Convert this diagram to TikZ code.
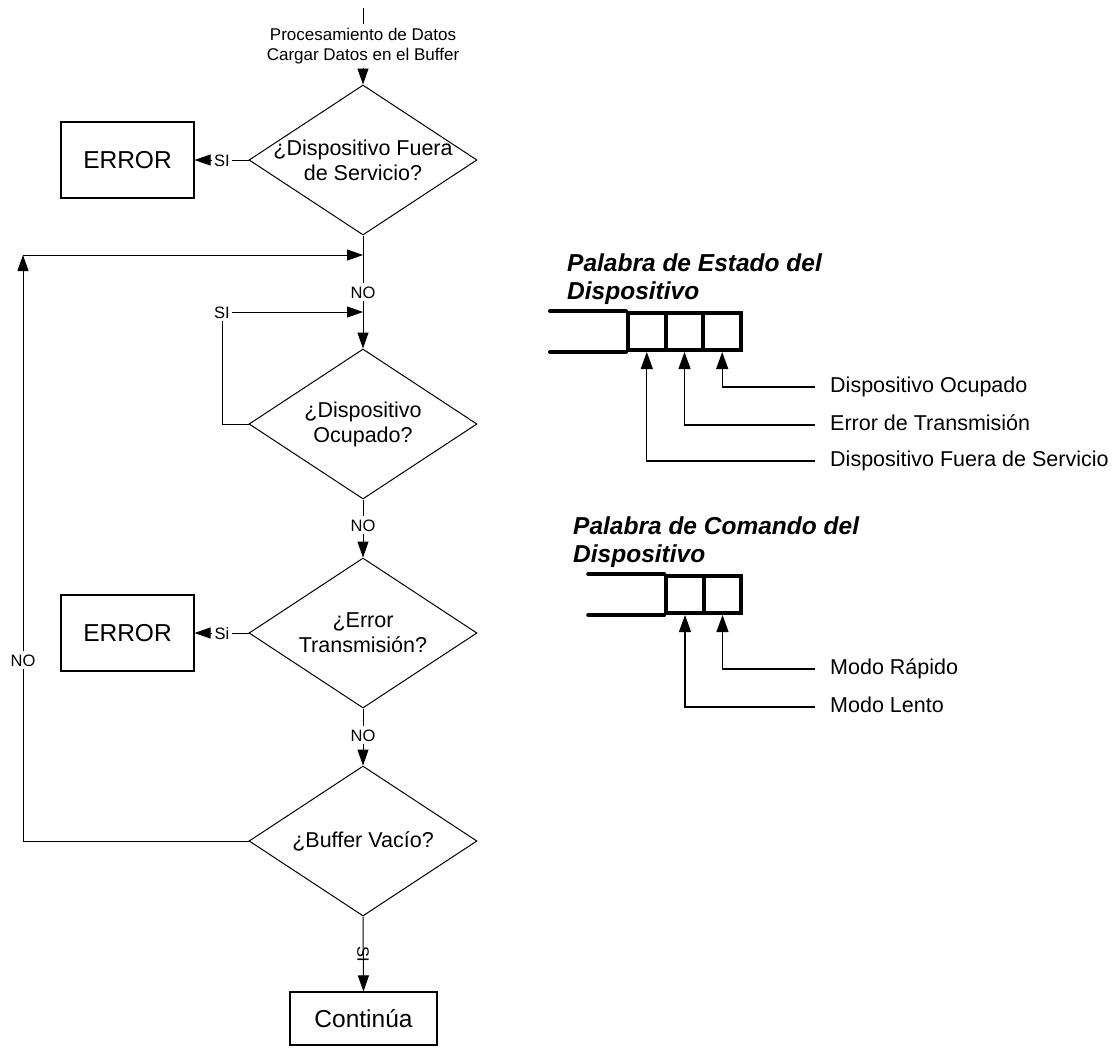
\documentclass[tikz,border=0pt]{standalone}
\usepackage{fontspec}
\setmainfont{Liberation Sans}
\usetikzlibrary{shapes.geometric,arrows.meta}

\begin{document}
\begin{tikzpicture}[x=1pt,y=-1pt,
  flow/.style={line width=1pt},
  arr/.style={flow,-{Triangle[length=16pt,width=11pt]}},
  decision/.style={draw,line width=1pt,shape=diamond,minimum width=228pt,minimum height=150pt,inner sep=0pt},
  dtext/.style={align=center,font=\fontsize{21.5}{25}\selectfont},
  box/.style={draw,line width=1.1pt,inner sep=0pt,font=\fontsize{24.5}{28}\selectfont},
  toptext/.style={align=center,font=\fontsize{17}{20}\selectfont,inner xsep=0pt,inner ysep=4pt},
  tag/.style={font=\fontsize{16.5}{19}\selectfont,text height=12pt,text depth=0pt,inner sep=2.5pt},
  cell/.style={draw,line width=4pt,minimum width=37.6pt,minimum height=37pt,inner sep=0pt},
  reg/.style={line width=4pt,line cap=round},
  regarr/.style={line width=1.1pt,-{Triangle[length=17pt,width=12pt]}},
  side/.style={font=\fontsize{21.5}{25}\selectfont,anchor=west,inner xsep=15pt,inner ysep=0pt,text height=15.5pt,text depth=4.5pt},
  title/.style={font=\fontsize{24.5}{28}\selectfont\bfseries\itshape,align=left,anchor=north west,inner sep=0pt}
]
\useasboundingbox (0,0) rectangle (1116,1047);
\fill[white] (0,0) rectangle (1116,1047);

% ---------- flowchart ----------
\coordinate (in) at (363,8);
\node[toptext] (pr) at (363,46) {Procesamiento de Datos\\Cargar Datos en el Buffer};

\node[decision,label={[dtext]center:{¿Dispositivo Fuera\\de Servicio?}}] (d1) at (363,160) {};
\node[decision,label={[dtext]center:{¿Dispositivo\\Ocupado?}}] (d2) at (363,424) {};
\node[decision,label={[dtext]center:{¿Error\\Transmisión?}}] (d3) at (363,633) {};
\node[decision,label={[dtext]center:{¿Buffer Vacío?}}] (d4) at (363,841) {};

\node[box,minimum width=133pt,minimum height=76pt] (e1) at (127.5,160) {ERROR};
\node[box,minimum width=133pt,minimum height=76pt] (e2) at (127.5,633) {ERROR};
\node[box,minimum width=147pt,minimum height=53pt] (cont) at (363.5,1018.5) {Continúa};

\node[tag] (n1) at (363,292) {NO};
\node[tag] (n2) at (363,525) {NO};
\node[tag] (n3) at (363,735) {NO};
\node[tag,inner xsep=2pt] (s1) at (222,160) {SI};
\node[tag,inner xsep=2pt] (s3) at (222,633) {Si};
\node[tag] (s2) at (222,312) {SI};
\node[tag] (nl) at (23,660) {NO};

\coordinate (j1) at (363,255);
\coordinate (j2) at (363,312);
\coordinate (c1) at (23,255);

% main column
\draw[flow] (in) -- (pr.north);
\draw[arr] (pr.south) -- (d1.north);
\draw[flow] (d1.south) -- (n1.north);
\draw[arr] (n1.south) -- (d2.north);
\draw[flow] (d2.south) -- (n2.north);
\draw[arr] (n2.south) -- (d3.north);
\draw[flow] (d3.south) -- (n3.north);
\draw[arr] (n3.south) -- (d4.north);
\draw[arr] (d4.south) -- node[tag,rotate=-90] {SI} (cont.north);

% error branches
\draw[flow] (d1.west) -- (s1.east);
\draw[arr] (s1.west) -- (e1.east);
\draw[flow] (d3.west) -- (s3.east);
\draw[arr] (s3.west) -- (e2.east);

% busy loop
\draw[flow] (d2.west) -| (s2.south);
\draw[arr] (s2.east) -- (j2);

% buffer not empty loop
\draw[flow] (d4.west) -| (nl.south);
\draw[arr] (nl.north) -- (c1);
\draw[arr] (c1) -- (j1);

% ---------- status word ----------
\node[title] (t1) at (567,254) {Palabra de Estado del\\Dispositivo};
\node[cell] (sa) at (646.8,331.5) {};
\node[cell] (sb) at (684.5,331.5) {};
\node[cell] (sc) at (722.2,331.5) {};
\draw[reg] (sa.north west) -- ++(-76,0);
\draw[reg] (sa.south west) -- ++(-76,0);

\node[side] (la) at (815,387) {Dispositivo Ocupado};
\node[side] (lb) at (815,425) {Error de Transmisión};
\node[side] (lc) at (815,461) {Dispositivo Fuera de Servicio};
\draw[regarr] (la.west) -| (sc.south);
\draw[regarr] (lb.west) -| (sb.south);
\draw[regarr] (lc.west) -| (sa.south);

% ---------- command word ----------
\node[title] (t2) at (573,517) {Palabra de Comando del\\Dispositivo};
\node[cell] (ca) at (685,594.5) {};
\node[cell] (cb) at (722.5,594.5) {};
\draw[reg] (ca.north west) -- ++(-76,0);
\draw[reg] (ca.south west) -- ++(-76,0);

\node[side] (lr) at (815,669) {Modo Rápido};
\node[side] (ll) at (815,707) {Modo Lento};
\draw[regarr] (lr.west) -| (cb.south);
\draw[regarr] (ll.west) -| (ca.south);
\end{tikzpicture}
\end{document}
